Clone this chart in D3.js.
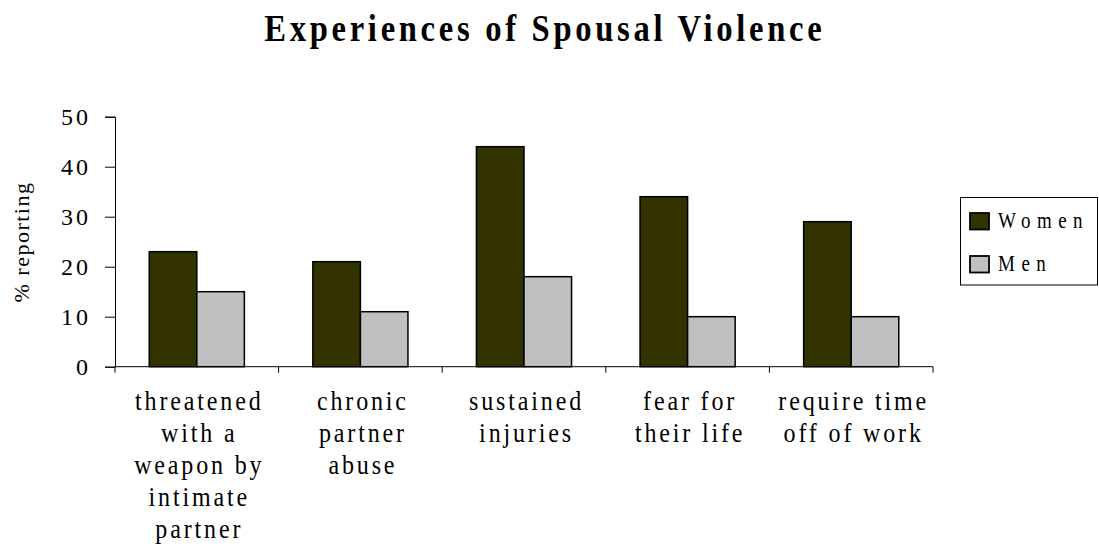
<!DOCTYPE html>
<html>
<head>
<meta charset="utf-8">
<script src="https://cdn.jsdelivr.net/npm/d3@7"></script>
<style>
  html, body { margin: 0; padding: 0; background: #fff; }
  svg { display: block; }
  text { font-family: "Liberation Serif", "Times New Roman", serif; fill: #000; }
</style>
</head>
<body>
<svg id="chart" width="1099" height="548"></svg>
<script>
const categories = ["threatened with a weapon by intimate partner", "chronic partner abuse", "sustained injuries", "fear for their life", "require time off of work"];
const tickLabels = [
  ["threatened", "with a", "weapon by", "intimate", "partner"],
  ["chronic", "partner", "abuse"],
  ["sustained", "injuries"],
  ["fear for", "their life"],
  ["require time", "off of work"]
];
const seriesNames = ["Women", "Men"];
const women = [23, 21, 44, 34, 29];
const men = [15, 11, 18, 10, 10];
const yTicks = [0, 10, 20, 30, 40, 50];
const colors = ["#333300", "#c0c0c0"];

const svg = d3.select("#chart");
const STRETCH = 1.16;

const plot = { left: 115, right: 933, top: 116.7, bottom: 366.7 };

const x0 = d3.scaleBand().domain(categories).range([plot.left, plot.right]).paddingInner(0).paddingOuter(0);
const x1 = d3.scaleBand().domain(seriesNames).range([0, x0.bandwidth()]).paddingInner(0).paddingOuter(0.72);
const y = d3.scaleLinear().domain([0, 50]).range([plot.bottom, plot.top]);
const color = d3.scaleOrdinal().domain(seriesNames).range(colors);

const seriesData = { Women: women, Men: men };

// Title
svg.append("g")
  .attr("transform", `translate(543,40.8) scale(1,${STRETCH})`)
  .append("text")
  .attr("text-anchor", "middle")
  .attr("dx", "1.8")
  .style("font-size", "32.6px")
  .style("font-weight", "bold")
  .style("letter-spacing", "3.7px")
  .text("Experiences of Spousal Violence");

// Bars
const groups = svg.append("g").selectAll("g")
  .data(categories)
  .join("g")
  .attr("transform", d => `translate(${x0(d)},0)`);

groups.selectAll("rect")
  .data((d, i) => seriesNames.map(s => ({ s, v: seriesData[s][i] })))
  .join("rect")
  .attr("x", d => x1(d.s))
  .attr("y", d => y(d.v))
  .attr("width", x1.bandwidth())
  .attr("height", d => y(0) - y(d.v))
  .attr("fill", d => color(d.s))
  .attr("stroke", "#000")
  .attr("stroke-width", 1.5);

// Y axis
const yAxis = d3.axisLeft(y).tickValues(yTicks).tickSize(10).tickPadding(14).tickFormat(d3.format("d"));
const gy = svg.append("g").attr("transform", `translate(${plot.left},0)`).call(yAxis);
gy.select(".domain").attr("stroke", "#000");
gy.selectAll(".tick line").attr("stroke", "#000");
gy.selectAll(".tick text")
  .style("font-size", "24px")
  .style("letter-spacing", "3px")
  .attr("dy", "0.34em");

// X axis line + boundary ticks
const xAxisG = svg.append("g");
xAxisG.append("line")
  .attr("x1", plot.left).attr("x2", plot.right)
  .attr("y1", y(0)).attr("y2", y(0))
  .attr("stroke", "#000");
const boundaries = categories.map(c => x0(c)).concat([x0(categories[categories.length - 1]) + x0.bandwidth()]);
xAxisG.selectAll("line.tk")
  .data(boundaries)
  .join("line")
  .attr("class", "tk")
  .attr("x1", d => d).attr("x2", d => d)
  .attr("y1", y(0)).attr("y2", y(0) + 6)
  .attr("stroke", "#000");

// X labels
const lblG = svg.append("g").selectAll("g")
  .data(categories)
  .join("g");
lblG.each(function(d, i) {
  const cx = x0(d) + x0.bandwidth() / 2 + 2.5;
  d3.select(this).selectAll("g")
    .data(tickLabels[i])
    .join("g")
    .attr("transform", (t, j) => `translate(${cx},${409.5 + j * 32}) scale(1,${STRETCH})`)
    .append("text")
    .attr("text-anchor", "middle")
    .style("font-size", "24px")
    .style("letter-spacing", "2.85px")
    .text(t => t);
});

// Y label
svg.append("text")
  .attr("transform", "translate(28.5,242) rotate(-90)")
  .attr("text-anchor", "middle")
  .style("font-size", "22px")
  .style("letter-spacing", "1.5px")
  .text("% reporting");

// Legend
const lg = svg.append("g");
lg.append("rect")
  .attr("x", 960.5).attr("y", 197.5)
  .attr("width", 137).attr("height", 87.5)
  .attr("fill", "#fff").attr("stroke", "#000").attr("stroke-width", 1);
const items = lg.selectAll("g.item")
  .data(seriesNames)
  .join("g")
  .attr("class", "item")
  .attr("transform", (d, i) => `translate(0,${i * 43})`);
items.append("rect")
  .attr("x", 970).attr("y", 213)
  .attr("width", 19).attr("height", 16.5)
  .attr("fill", d => color(d))
  .attr("stroke", "#000").attr("stroke-width", 1.8);
items.append("g")
  .attr("transform", `translate(998,228) scale(1,${STRETCH})`)
  .append("text")
  .style("font-size", "19px")
  .style("letter-spacing", "6.5px")
  .text(d => d);
</script>
</body>
</html>
